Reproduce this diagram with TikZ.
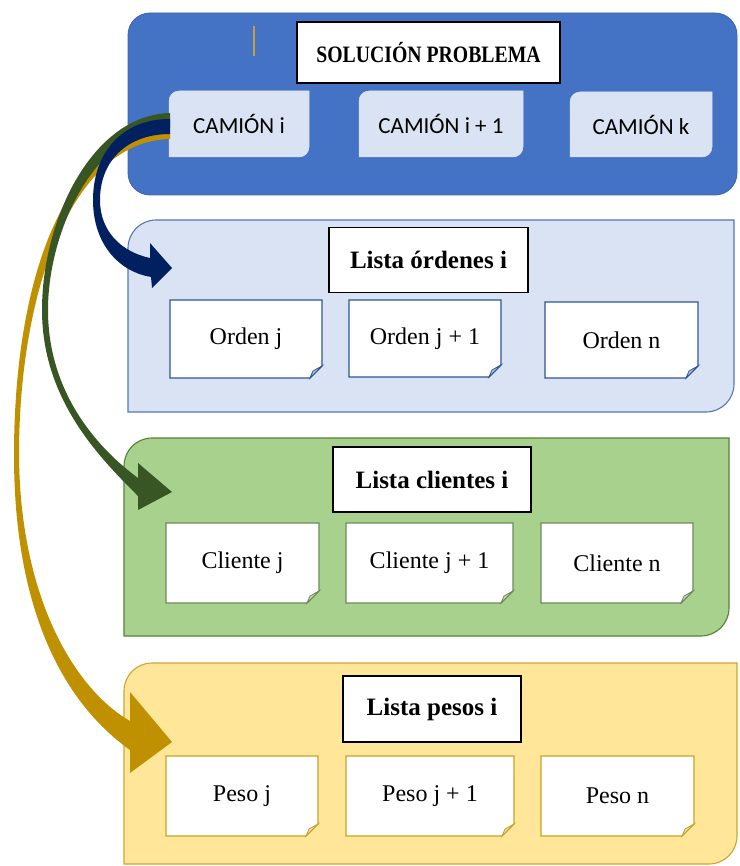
\documentclass[tikz,border=0pt]{standalone}
\usepackage{fontspec}
\setmainfont{Liberation Serif}
\newfontfamily\calibfont{Carlito}
\usetikzlibrary{calc}

\definecolor{panelblue}{HTML}{4472C4}
\definecolor{panelblueline}{HTML}{3B64AE}
\definecolor{paleblue}{HTML}{DAE3F3}
\definecolor{paleblueline}{HTML}{5676B8}
\definecolor{palegreen}{HTML}{A9D18E}
\definecolor{palegreenline}{HTML}{548235}
\definecolor{paleyellow}{HTML}{FFE699}
\definecolor{paleyellowline}{HTML}{CFA52E}
\definecolor{navyc}{HTML}{002060}
\definecolor{forestc}{HTML}{375623}
\definecolor{goldc}{HTML}{BF9000}
\definecolor{ordline}{HTML}{2F5597}
\definecolor{ordfold}{HTML}{B4C7E7}
\definecolor{cliline}{HTML}{6E8A5C}
\definecolor{clifold}{HTML}{C9D3C2}
\definecolor{pesline}{HTML}{C9A227}
\definecolor{pesfold}{HTML}{E9DCAE}
\definecolor{tickc}{HTML}{C89B3C}

% panel with rounded top-left and bottom-right corners: x1,y1,x2,y2,radius,style
\newcommand{\diagpanel}[6]{%
  \path[#6] (#1,#4) -- (#1,#2+#5)
    .. controls (#1,#2+0.448*#5) and (#1+0.448*#5,#2) .. (#1+#5,#2)
    -- (#3,#2) -- (#3,#4-#5)
    .. controls (#3,#4-0.448*#5) and (#3-0.448*#5,#4) .. (#3-#5,#4)
    -- cycle;}

% note card with folded bottom-right corner: name,cx,cy,w,h,text,line colour,fold colour
\newcommand{\notecard}[8]{%
  \path[fill=white,draw=#7,line width=1.1pt]
    ({#2-#4/2},{#3-#5/2}) -- ({#2+#4/2},{#3-#5/2}) -- ({#2+#4/2},{#3+#5/2-12})
    -- ({#2+#4/2-12},{#3+#5/2}) -- ({#2-#4/2},{#3+#5/2}) -- cycle;
  \path[fill=#8,draw=#7,line width=0.8pt]
    ({#2+#4/2},{#3+#5/2-12}) -- ({#2+#4/2-12},{#3+#5/2}) -- ({#2+#4/2-9},{#3+#5/2-7}) -- cycle;
  \node[notetext,minimum width=#4pt,minimum height=#5pt] (#1) at (#2,#3) {#6};}

\begin{document}
\begin{tikzpicture}[x=1pt,y=-1pt,
  notetext/.style={inner sep=0pt,font=\fontsize{24}{28}\selectfont},
  titlebox/.style={draw=black,line width=1.5pt,fill=white,inner sep=0pt,
    font=\fontsize{25}{29}\selectfont\bfseries},
  truckbox/.style={inner sep=0pt,font=\calibfont\fontsize{23}{27}\selectfont}]
\useasboundingbox (0,0) rectangle (739,866);

% background panels
\path[fill=panelblue,draw=panelblueline,line width=0.8pt,rounded corners=22pt]
  (128,13) rectangle (737,195);
\diagpanel{128}{220}{734}{412}{28}{fill=paleblue,draw=paleblueline,line width=1.1pt}
\diagpanel{124}{438}{729}{636}{28}{fill=palegreen,draw=palegreenline,line width=1.1pt}
\diagpanel{124}{663}{737}{864}{28}{fill=paleyellow,draw=paleyellowline,line width=1.1pt}

% short mark beside the title
\draw[tickc,line width=1.4pt] (254,26) -- (254,56);

% title
\node[titlebox,minimum width=263pt,minimum height=61pt] (sol) at (428.5,52.5)
  {\scalebox{0.84}[1]{\fontsize{23.5}{28}\selectfont\bfseries SOLUCIÓN PROBLEMA}};

% trucks
\diagpanel{169}{91}{309}{157}{10}{fill=paleblue,draw=paleblue!80!black!40,line width=0.5pt}
\node[truckbox,minimum width=140pt,minimum height=66pt] (cami) at (239,124) {CAMIÓN i};
\diagpanel{359}{91}{523}{157}{10}{fill=paleblue,draw=paleblue!80!black!40,line width=0.5pt}
\node[truckbox,minimum width=164pt,minimum height=66pt] (camip) at (441,124) {CAMIÓN i + 1};
\diagpanel{570}{92}{712}{157}{10}{fill=paleblue,draw=paleblue!80!black!40,line width=0.5pt}
\node[truckbox,minimum width=142pt,minimum height=65pt] (camk) at (641,124.5) {CAMIÓN k};

% list titles
\node[titlebox,minimum width=199pt,minimum height=65pt] (lord) at (428.5,260) {Lista órdenes i};
\node[titlebox,minimum width=198pt,minimum height=65pt] (lcli) at (432,479.5) {Lista clientes i};
\node[titlebox,minimum width=178pt,minimum height=66pt] (lpes) at (432,709) {Lista pesos i};

% orders
\notecard{ordj}{246}{339}{152}{78}{Orden j}{ordline}{ordfold}
\notecard{ordjp}{425}{338.5}{152}{77}{Orden j + 1}{ordline}{ordfold}
\notecard{ordn}{621.5}{340}{153}{76}{Orden n}{ordline}{ordfold}

% clients
\notecard{clij}{242.5}{563}{153}{80}{Cliente j}{cliline}{clifold}
\notecard{clijp}{429.5}{563}{167}{80}{Cliente j + 1}{cliline}{clifold}
\notecard{clin}{617}{563}{152}{80}{Cliente n}{cliline}{clifold}

% weights
\notecard{pesj}{242}{796}{152}{80}{Peso j}{pesline}{pesfold}
\notecard{pesjp}{430}{796}{168}{80}{Peso j + 1}{pesline}{pesfold}
\notecard{pesn}{617.5}{796}{153}{80}{Peso n}{pesline}{pesfold}

% curved block arrows leaving truck i
\fill[goldc] (170,133) .. controls (62,134) and (14,285) .. (14,455)
  .. controls (14,605) and (60,700) .. (130,750)
  -- (130,773) -- (172,742) -- (130,692) -- (130,721)
  .. controls (76,690) and (20,600) .. (19,455)
  .. controls (19,290) and (72,141) .. (170,139) -- cycle;
\fill[forestc] (170,113) .. controls (92,115) and (42,220) .. (42,310)
  .. controls (42,400) and (100,458) .. (138,496)
  -- (138,510) -- (172,492) -- (138,463) -- (138,478)
  .. controls (100,450) and (48,395) .. (48,310)
  .. controls (48,230) and (96,128) .. (170,128) -- cycle;
\fill[navyc] (170,119) .. controls (120,119) and (93,155) .. (93,200)
  .. controls (93,245) and (120,272) .. (151,277)
  -- (152,288) -- (172,268) -- (150,243) -- (150,258)
  .. controls (122,252) and (100,232) .. (100,200)
  .. controls (100,160) and (128,134) .. (170,134) -- cycle;
\end{tikzpicture}
\end{document}
